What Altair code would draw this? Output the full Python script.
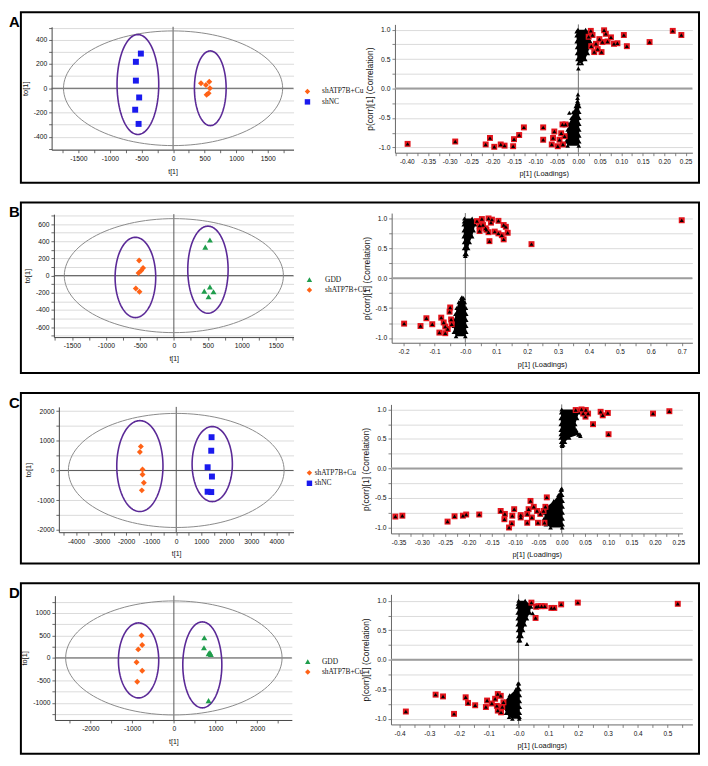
import altair as alt
import pandas as pd

W, H = 684, 172

# ======================= Panel A =======================
A_groups = ["shATP7B+Cu", "shNC"]
A_g1_t = [442, 520, 573, 583, 562, 531]
A_g1_to = [41, 27, 54, 0, -41, -54]
A_g2_t = [-510, -589, -589, -537, -600, -546]
A_g2_to = [286, 218, 63, -76, -177, -294]
A_ell_cx = [0, -557, 589]
A_ell_cy = [0, 31, 0]
A_ell_a = [1735, 330, 251]
A_ell_b = [473, 412, 308]
A_t_ticks = [-1750, -1500, -1250, -1000, -750, -500, -250, 0, 250, 500, 750, 1000, 1250, 1500, 1750]
A_to_ticks = [-500, -400, -300, -200, -100, 0, 100, 200, 300, 400, 500]
A_sig_top_p = [0.029, 0.033, 0.060, 0.064, 0.076, 0.068, 0.083, 0.106, 0.091, 0.113, 0.041,
               0.045, 0.054, 0.037, 0.049, 0.056, 0.166, 0.220, 0.240, 0.024, 0.030]
A_sig_top_c = [0.98, 0.91, 0.99, 0.93, 0.87, 0.80, 0.76, 0.91, 0.77, 0.72, 0.76,
               0.67, 0.62, 0.62, 0.84, 0.79, 0.79, 0.98, 0.91, 0.88, 0.72]
A_sig_bot_p = [-0.398, -0.287, -0.206, -0.216, -0.196, -0.181, -0.172, -0.150, -0.138, -0.152,
               -0.127, -0.082, -0.082, -0.059, -0.056, -0.062, -0.048, -0.036, -0.044, -0.037,
               -0.030, -0.040, -0.032]
A_sig_bot_c = [-0.94, -0.90, -0.84, -0.95, -0.99, -0.95, -0.97, -0.86, -0.79, -0.98,
               -0.66, -0.66, -0.87, -0.84, -0.73, -0.95, -0.98, -0.95, -0.87, -0.61,
               -0.61, -0.76, -0.81]
A_one_p = [0.000, -0.001, -0.002, -0.002, -0.021]
A_one_c = [0.34, -0.10, -0.16, -0.21, -0.41]
A_top_c = [1.0, 0.97, 0.9, 0.8, 0.7, 0.6, 0.5, 0.43]
A_top_pl = [-0.001, -0.004, -0.004, -0.004, -0.003, -0.003, -0.002, 0.0]
A_top_pr = [0.017, 0.023, 0.027, 0.028, 0.026, 0.022, 0.016, 0.008]
A_bot_c = [-0.25, -0.3, -0.4, -0.5, -0.6, -0.7, -0.8, -0.9, -0.97]
A_bot_pl = [-0.003, -0.006, -0.012, -0.016, -0.022, -0.025, -0.028, -0.029, -0.025]
A_bot_pr = [0.0, 0.002, 0.002, 0.002, 0.002, 0.002, 0.002, 0.002, 0.001]
A_p_ticks = [i / 1000 for i in range(-425, 251, 25)]

# ======================= Panel B =======================
B_groups = ["GDD", "shATP7B+Cu"]
B_g1_t = [531, 463, 531, 448, 584, 511]
B_g1_to = [415, 331, -130, -180, -188, -246]
B_g2_t = [-511, -453, -480, -520, -560, -506]
B_g2_to = [177, 89, 60, 30, -150, -188]
B_ell_cx = [0, -566, 502]
B_ell_cy = [0, -21, 69]
B_ell_a = [1613, 299, 297]
B_ell_b = [663, 467, 507]
B_t_ticks = [-1750, -1500, -1250, -1000, -750, -500, -250, 0, 250, 500, 750, 1000, 1250, 1500, 1750]
B_to_ticks = [-700, -600, -500, -400, -300, -200, -100, 0, 100, 200, 300, 400, 500, 600, 700]
B_sig_top_p = [0.0375, 0.0535, 0.075, 0.086, 0.083, 0.107, 0.046, 0.057, 0.0655, 0.046, 0.075,
               0.095, 0.124, 0.131, 0.107, 0.118, 0.137, 0.124, 0.078, 0.068, 0.214, 0.700]
B_sig_top_c = [0.955, 0.99, 1.0, 0.98, 0.93, 0.96, 0.88, 0.89, 0.835, 0.79, 0.77,
               0.78, 0.89, 0.86, 0.75, 0.72, 0.76, 0.65, 0.62, 0.81, 0.57, 0.97]
B_sig_bot_p = [-0.198, -0.145, -0.126, -0.107, -0.084, -0.078, -0.070, -0.065, -0.049, -0.057,
               -0.046, -0.044, -0.051, -0.065]
B_sig_bot_c = [-0.76, -0.80, -0.67, -0.77, -0.91, -0.66, -0.74, -0.81, -0.49, -0.85,
               -0.69, -0.77, -0.56, -0.92]
B_one_p = [0.0, -0.011]
B_one_c = [0.37, -0.32]
B_top_c = [1.0, 0.95, 0.9, 0.8, 0.7, 0.6, 0.5, 0.4]
B_top_pl = [-0.003, -0.004, -0.005, -0.005, -0.005, -0.004, -0.004, -0.002]
B_top_pr = [0.022, 0.032, 0.032, 0.027, 0.022, 0.014, 0.009, 0.004]
B_bot_c = [-0.33, -0.4, -0.5, -0.6, -0.7, -0.8, -0.9, -0.97]
B_bot_pl = [-0.013, -0.021, -0.028, -0.032, -0.035, -0.037, -0.037, -0.030]
B_bot_pr = [-0.006, -0.002, 0.002, 0.003, 0.003, 0.003, 0.003, 0.0]
B_p_ticks = [i / 100 for i in range(-20, 71, 5)]

# ======================= Panel C =======================
C_groups = ["shATP7B+Cu", "shNC"]
C_g1_t = [-1414, -1453, -1347, -1347, -1294, -1374]
C_g1_to = [809, 619, 30, -137, -415, -671]
C_g2_t = [1411, 1398, 1254, 1426, 1254, 1398]
C_g2_to = [1119, 664, 107, -205, -717, -728]
C_ell_cx = [0, -1453, 1438]
C_ell_cy = [0, 147, 214]
C_ell_a = [4309, 923, 804]
C_ell_b = [1921, 1531, 1264]
C_t_ticks = [-4500, -4000, -3500, -3000, -2500, -2000, -1500, -1000, -500, 0,
             500, 1000, 1500, 2000, 2500, 3000, 3500, 4000, 4500]
C_to_ticks = [-2000, -1500, -1000, -500, 0, 500, 1000, 1500, 2000]
C_sig_top_p = [0.0425, 0.0517, 0.046, 0.0566, 0.051, 0.0672, 0.0835, 0.088, 0.099, 0.1005,
               0.196, 0.231, 0.030]
C_sig_top_c = [1.0, 0.99, 0.93, 0.93, 0.878, 0.75, 0.96, 0.90, 0.94, 0.58,
               0.93, 0.97, 0.99]
C_sig_bot_p = [-0.357, -0.342, -0.245, -0.230, -0.212, -0.205, -0.177, -0.131, -0.122, -0.123,
               -0.102, -0.106, -0.088, -0.113, -0.107, -0.074, -0.067, -0.071, -0.060, -0.053,
               -0.039, -0.035, -0.032, -0.046, -0.064, -0.074, -0.051, -0.037, -0.088]
C_sig_bot_c = [-0.815, -0.80, -0.90, -0.81, -0.80, -0.78, -0.78, -0.72, -0.77, -0.86,
               -0.69, -0.80, -0.79, -1.0, -0.93, -0.77, -0.55, -0.69, -0.65, -0.72,
               -0.72, -0.65, -0.49, -0.77, -0.83, -0.92, -0.92, -0.92, -0.83]
C_one_p = [0.0, 0.001, 0.036, 0.040]
C_one_c = [-0.34, 0.38, 0.57, 0.55]
C_top_c = [1.0, 0.95, 0.85, 0.75, 0.65, 0.58, 0.52, 0.45, 0.4]
C_top_pl = [0.0, -0.001, -0.002, -0.002, -0.002, -0.002, -0.002, -0.001, 0.0]
C_top_pr = [0.035, 0.037, 0.033, 0.029, 0.031, 0.039, 0.016, 0.007, 0.003]
C_bot_c = [-0.36, -0.45, -0.55, -0.65, -0.75, -0.85, -0.95, -1.0]
C_bot_pl = [-0.002, -0.007, -0.017, -0.032, -0.036, -0.038, -0.034, -0.024]
C_bot_pr = [0.0, 0.001, 0.002, 0.002, 0.002, 0.002, 0.002, 0.001]
C_p_ticks = [i / 1000 for i in range(-350, 251, 25)]

# ======================= Panel D =======================
D_groups = ["GDD", "shATP7B+Cu"]
D_g1_t = [730, 722, 864, 887, 832, 832]
D_g1_to = [448, 227, 117, 80, 95, -948]
D_g2_t = [-775, -759, -854, -894, -759, -878]
D_g2_to = [499, 286, 190, -96, -287, -530]
D_ell_cx = [0, -846, 682]
D_ell_cy = [0, -55, -154]
D_ell_a = [2594, 483, 468]
D_ell_b = [1268, 834, 956]
D_t_ticks = [-2500, -2000, -1500, -1000, -500, 0, 500, 1000, 1500, 2000, 2500]
D_to_ticks = [-1250, -1000, -750, -500, -250, 0, 250, 500, 750, 1000, 1250]
D_sig_top_p = [0.043, 0.059, 0.066, 0.077, 0.088, 0.110, 0.120, 0.143, 0.199, 0.057, 0.535]
D_sig_top_c = [0.97, 0.90, 0.91, 0.91, 0.91, 0.88, 0.88, 0.94, 0.97, 0.71, 0.95]
D_sig_bot_p = [-0.379, -0.279, -0.254, -0.217, -0.178, -0.170, -0.146, -0.110, -0.106, -0.090,
               -0.079, -0.070, -0.060, -0.073, -0.070, -0.059, -0.051, -0.055]
D_sig_bot_c = [-0.876, -0.59, -0.62, -0.916, -0.635, -0.73, -0.77, -0.80, -0.69, -0.74,
               -0.66, -0.58, -0.61, -0.78, -0.86, -0.89, -0.72, -0.80]
D_one_p = [0.028, 0.047, 0.040]
D_one_c = [0.27, 0.79, 0.95]
D_top_c = [1.0, 0.95, 0.9, 0.8, 0.7, 0.6, 0.5, 0.4, 0.33]
D_top_pl = [0.0, -0.002, -0.003, -0.003, -0.003, -0.003, -0.002, -0.001, 0.0]
D_top_pr = [0.022, 0.037, 0.042, 0.038, 0.028, 0.021, 0.015, 0.010, 0.005]
D_bot_c = [-0.4, -0.5, -0.6, -0.7, -0.8, -0.9, -0.97, -1.0]
D_bot_pl = [-0.002, -0.009, -0.030, -0.047, -0.051, -0.042, -0.032, -0.021]
D_bot_pr = [0.001, 0.003, 0.004, 0.004, 0.004, 0.004, 0.003, 0.002]
D_p_ticks = [i / 100 for i in range(-40, 56, 5)]

CORR_TICKS = [-1.0, -0.75, -0.5, -0.25, 0.0, 0.25, 0.5, 0.75, 1.0]

# ======================= layout / styles =======================
GEO = {
    "A": dict(lx=[31, 275], ldx=[-1923, 1907], ly=[138.7, 14.7], ldy=[-507, 507],
              rx=[377.3, 677.3], rdx=[-0.4275, 0.2657], ry=[141.7, 12.3], rdy=[-1.09, 1.09],
              legx=285.3, legy=76.2, legoff=11, tstep=500, tostep=200, pmul=20, pdec=2, negzero=False),
    "B": dict(lx=[33.3, 275], ldx=[-1766, 1762], ly=[135.7, 11.7], ldy=[-715, 715],
              rx=[374, 677.3], rdx=[-0.2383, 0.7344], ry=[141.4, 10.6], rdy=[-1.08, 1.09],
              legx=287.3, legy=74.0, legoff=12, tstep=500, tostep=200, pmul=10, pdec=1, negzero=True),
    "C": dict(lx=[38.3, 275], ldx=[-4689, 4685], ly=[140.5, 14.1], ldy=[-2080, 2140],
              rx=[373.3, 667.3], rdx=[-0.3664, 0.2591], ry=[141.7, 11.6], rdy=[-1.1, 1.085],
              legx=287.3, legy=76.9, legoff=1.5, tstep=1000, tostep=1000, pmul=20, pdec=2, negzero=False),
    "D": dict(lx=[34.3, 273.3], ldx=[-2852, 2828], ly=[137.9, 12.5], ldy=[-1380, 1385],
              rx=[373.3, 677.3], rdx=[-0.429, 0.584], ry=[142.4, 11.2], rdy=[-1.095, 1.11],
              legx=285.6, legy=75.2, legoff=10.6, tstep=1000, tostep=500, pmul=10, pdec=1, negzero=True),
}

ORANGE, BLUE, GREEN = "#ff6216", "#1a1aee", "#1f9d4c"
PURPLE, T2GRAY = "#5b2a97", "#8a8a8a"
SANS = "Liberation Sans"
SERIF = "Liberation Serif"
MINUS = "\u2212"


def int_label(step):
    return f"datum.value % {step} == 0 ? replace(format(datum.value, 'd'), '{MINUS}', '-') : ''"


def float_label(mul, dec, negzero=False):
    lab = f"replace(format(datum.value, '.{dec}f'), '{MINUS}', '-')"
    if negzero:
        lab = f"(abs(datum.value) < 0.0001 ? '-0.0' : {lab})"
    return f"abs(datum.value*{mul} - round(datum.value*{mul})) < 0.001 ? {lab} : ''"


def axis(orient, offset, values, expr, title, grid, title_size, domain_color, label_size):
    return alt.Axis(
        orient=orient, offset=offset, values=values, labelExpr=expr, title=title,
        grid=grid, gridColor="#d2d2d2", gridWidth=0.8,
        labelFont=SANS, labelFontSize=label_size, labelColor="#111", labelOverlap=False,
        labelFlush=False, labelBound=False, labelPadding=3 if orient == "bottom" else 2,
        tickSize=3, tickColor=domain_color, tickWidth=0.8,
        domainColor=domain_color, domainWidth=1,
        titleFont=SANS, titleFontSize=title_size, titleFontWeight="normal", titleColor="#111",
        titlePadding=5 if orient == "bottom" else 4,
    )


def score_panel(groups, colors, shapes, g1_t, g1_to, g2_t, g2_to, ecx, ecy, ea, eb, tt, tot, g):
    xs = alt.Scale(domain=g["ldx"], range=g["lx"], nice=False, zero=False)
    ys = alt.Scale(domain=g["ldy"], range=g["ly"], nice=False, zero=False)
    xax = axis("bottom", g["ly"][0] - H, tt, int_label(g["tstep"]), "t[1]", False, 7, "#444", 6.8)
    yax = axis("left", -g["lx"][0], tot, int_label(g["tostep"]), "to[1]", True, 7.5, "#444", 6.8)
    one = pd.DataFrame({"d": [0]})
    vline = alt.Chart(one).mark_rule(color="#555", strokeWidth=1).encode(
        x=alt.XDatum(0, type="quantitative", scale=xs, axis=xax),
        y=alt.YDatum(g["ldy"][0], type="quantitative", scale=ys, axis=yax),
        y2=alt.Y2Datum(g["ldy"][1]),
    )
    hline = alt.Chart(one).mark_rule(color="#555", strokeWidth=1).encode(
        y=alt.YDatum(0, type="quantitative", scale=ys, axis=yax),
        x=alt.XDatum(g["ldx"][0], type="quantitative", scale=xs, axis=xax),
        x2=alt.X2Datum(g["ldx"][1]),
    )
    ells = []
    for i in range(3):
        ells.append(
            alt.Chart(alt.sequence(0, 361, 3, as_="deg"))
            .transform_calculate(
                ex=f"{ecx[i]} + {ea[i]} * cos(datum.deg * PI / 180)",
                ey=f"{ecy[i]} + {eb[i]} * sin(datum.deg * PI / 180)",
            )
            .mark_line(color=T2GRAY if i == 0 else PURPLE, strokeWidth=1 if i == 0 else 1.6)
            .encode(
                x=alt.X("ex:Q", scale=xs, axis=xax),
                y=alt.Y("ey:Q", scale=ys, axis=yax),
                order="deg:Q",
            )
        )
    pts = pd.DataFrame({
        "t": g1_t + g2_t,
        "to": g1_to + g2_to,
        "group": [groups[0]] * len(g1_t) + [groups[1]] * len(g2_t),
    })
    leg = alt.Legend(
        orient="none", legendX=g["legx"], legendY=g["legy"], title=None,
        labelFont=SERIF, labelFontSize=7.5, labelColor="#111", symbolSize=30,
        labelOffset=g["legoff"], rowPadding=1.5, padding=0, symbolStrokeWidth=0,
    )
    points = alt.Chart(pts).mark_point(filled=True, size=36, opacity=1).encode(
        x=alt.X("t:Q", scale=xs, axis=xax),
        y=alt.Y("to:Q", scale=ys, axis=yax),
        color=alt.Color("group:N", scale=alt.Scale(domain=groups, range=colors), legend=leg),
        shape=alt.Shape("group:N", scale=alt.Scale(domain=groups, range=shapes), legend=leg),
    )
    return alt.layer(vline, hline, *ells, points)


def s_panel(sp_t, sc_t, sp_b, sc_b, one_p, one_c, tc, tpl, tpr, bc, bpl, bpr, pt, g):
    xs = alt.Scale(domain=g["rdx"], range=g["rx"], nice=False, zero=False)
    ys = alt.Scale(domain=g["rdy"], range=g["ry"], nice=False, zero=False)
    xax = axis("bottom", g["ry"][0] - H, pt, float_label(g["pmul"], g["pdec"], g["negzero"]),
               "p[1] (Loadings)", False, 7.5, "#666", 6.5)
    yax = axis("left", -g["rx"][0], CORR_TICKS, float_label(2, 1), "p(corr)[1] (Correlation)",
               True, 8.5, "#666", 6.8)
    one = pd.DataFrame({"d": [0]})
    hz = alt.Chart(one).mark_rule(color="#9d9d9d", strokeWidth=2).encode(
        y=alt.YDatum(0, type="quantitative", scale=ys, axis=yax),
        x=alt.XDatum(g["rdx"][0], type="quantitative", scale=xs, axis=xax),
        x2=alt.X2Datum(g["rdx"][1]),
    )
    vt = alt.Chart(one).mark_rule(color="#707070", strokeWidth=1).encode(
        x=alt.XDatum(0, type="quantitative", scale=xs, axis=xax),
        y=alt.YDatum(g["rdy"][0], type="quantitative", scale=ys, axis=yax),
        y2=alt.Y2Datum(g["rdy"][1]),
    )
    blob = pd.DataFrame({
        "part": ["top"] * len(tc) + ["bot"] * len(bc),
        "corr": tc + bc, "pl": tpl + bpl, "pr": tpr + bpr,
    })
    area = alt.Chart(blob).mark_area(orient="horizontal", color="black", opacity=1).encode(
        y=alt.Y("corr:Q", scale=ys, axis=yax),
        x=alt.X("pl:Q", scale=xs, axis=xax),
        x2="pr:Q",
        detail="part:N",
    )
    edge = pd.DataFrame({
        "p": tpl + tpr + bpl + bpr + one_p,
        "corr": tc + tc + bc + bc + one_c,
    })
    edge_pts = alt.Chart(edge).mark_point(shape="triangle-up", filled=True, color="black",
                                          size=22, opacity=1).encode(
        x=alt.X("p:Q", scale=xs, axis=xax), y=alt.Y("corr:Q", scale=ys, axis=yax))
    sig = pd.DataFrame({"p": sp_t + sp_b, "corr": sc_t + sc_b})
    red = alt.Chart(sig).mark_point(shape="square", filled=True, color="#e3151c",
                                    size=36, opacity=1).encode(
        x=alt.X("p:Q", scale=xs, axis=xax), y=alt.Y("corr:Q", scale=ys, axis=yax))
    tri = alt.Chart(sig).mark_point(shape="triangle-up", filled=True, color="black",
                                    size=16, opacity=1).encode(
        x=alt.X("p:Q", scale=xs, axis=xax), y=alt.Y("corr:Q", scale=ys, axis=yax))
    return alt.layer(hz, vt, area, edge_pts, red, tri)


def letter(txt):
    return alt.Chart(pd.DataFrame({"lab": [txt]})).mark_text(
        font=SANS, fontWeight="bold", fontSize=15, align="left", baseline="middle", color="black"
    ).encode(text="lab:N", x=alt.value(-12), y=alt.value(10))


def row(letter_txt, left, right):
    return alt.layer(left, right, letter(letter_txt)).resolve_scale(
        x="independent", y="independent").properties(width=W, height=H)


rowA = row("A",
           score_panel(A_groups, [ORANGE, BLUE], ["diamond", "square"], A_g1_t, A_g1_to, A_g2_t, A_g2_to,
                       A_ell_cx, A_ell_cy, A_ell_a, A_ell_b, A_t_ticks, A_to_ticks, GEO["A"]),
           s_panel(A_sig_top_p, A_sig_top_c, A_sig_bot_p, A_sig_bot_c, A_one_p, A_one_c,
                   A_top_c, A_top_pl, A_top_pr, A_bot_c, A_bot_pl, A_bot_pr, A_p_ticks, GEO["A"]))
rowB = row("B",
           score_panel(B_groups, [GREEN, ORANGE], ["triangle-up", "diamond"], B_g1_t, B_g1_to, B_g2_t, B_g2_to,
                       B_ell_cx, B_ell_cy, B_ell_a, B_ell_b, B_t_ticks, B_to_ticks, GEO["B"]),
           s_panel(B_sig_top_p, B_sig_top_c, B_sig_bot_p, B_sig_bot_c, B_one_p, B_one_c,
                   B_top_c, B_top_pl, B_top_pr, B_bot_c, B_bot_pl, B_bot_pr, B_p_ticks, GEO["B"]))
rowC = row("C",
           score_panel(C_groups, [ORANGE, BLUE], ["diamond", "square"], C_g1_t, C_g1_to, C_g2_t, C_g2_to,
                       C_ell_cx, C_ell_cy, C_ell_a, C_ell_b, C_t_ticks, C_to_ticks, GEO["C"]),
           s_panel(C_sig_top_p, C_sig_top_c, C_sig_bot_p, C_sig_bot_c, C_one_p, C_one_c,
                   C_top_c, C_top_pl, C_top_pr, C_bot_c, C_bot_pl, C_bot_pr, C_p_ticks, GEO["C"]))
rowD = row("D",
           score_panel(D_groups, [GREEN, ORANGE], ["triangle-up", "diamond"], D_g1_t, D_g1_to, D_g2_t, D_g2_to,
                       D_ell_cx, D_ell_cy, D_ell_a, D_ell_b, D_t_ticks, D_to_ticks, GEO["D"]),
           s_panel(D_sig_top_p, D_sig_top_c, D_sig_bot_p, D_sig_bot_c, D_one_p, D_one_c,
                   D_top_c, D_top_pl, D_top_pr, D_bot_c, D_bot_pl, D_bot_pr, D_p_ticks, GEO["D"]))

chart = (
    alt.vconcat(rowA, rowB, rowC, rowD, spacing=18)
    .resolve_scale(color="independent", shape="independent")
    .properties(padding={"left": 0, "top": 0, "right": 0, "bottom": 0}, background="white")
    .configure_view(stroke="black", strokeWidth=2, fill="white")
)

chart.save("out.html", embed_options={"renderer": "svg", "actions": False})
